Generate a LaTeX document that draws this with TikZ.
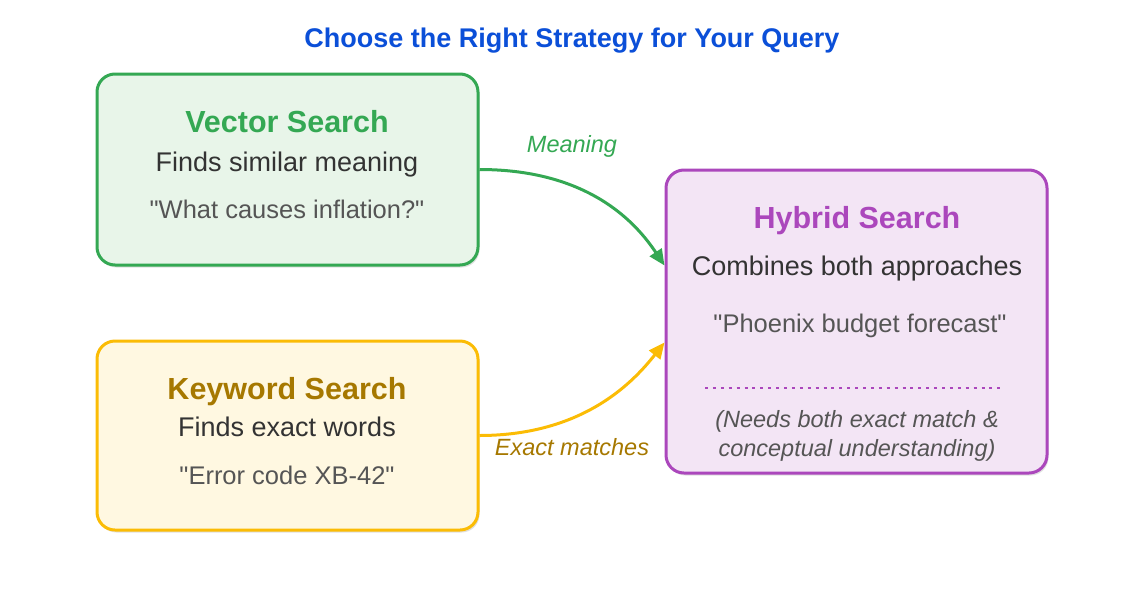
\documentclass[tikz,border=0pt]{standalone}
\usepackage{fontspec}
\setmainfont{Liberation Sans}[Ligatures=TeXOff]
\usetikzlibrary{arrows.meta,shadows}
\definecolor{vecgreen}{HTML}{34A853}
\definecolor{vecfill}{HTML}{E8F5E9}
\definecolor{kwgold}{HTML}{FBBC05}
\definecolor{kwfill}{HTML}{FFF8E1}
\definecolor{kwbrown}{HTML}{A67800}
\definecolor{hybpurple}{HTML}{AB47BC}
\definecolor{hybfill}{HTML}{F3E5F5}
\definecolor{titleblue}{HTML}{0B4FD8}
\definecolor{textdark}{HTML}{333333}
\definecolor{textgray}{HTML}{555555}
\tikzset{
  card/.style={draw, line width=3pt, rounded corners=18pt, minimum width=381pt,
    drop shadow={shadow xshift=1.5pt, shadow yshift=-2.5pt, opacity=0.12, fill=black}},
  head/.style={anchor=base, font=\fontsize{30.5}{36}\selectfont\bfseries},
  desc/.style={anchor=base, text=textdark, font=\fontsize{27}{32}\selectfont},
  sample/.style={anchor=base, text=textgray, font=\fontsize{25.5}{30}\selectfont},
  tag/.style={anchor=base, font=\fontsize{23.5}{28}\selectfont\itshape},
  flow/.style={line width=3pt, -{Triangle[length=16pt,width=14pt]}},
}
\begin{document}
\begin{tikzpicture}[x=1pt, y=-1pt]
  \useasboundingbox (0,0) rectangle (1145,600);
  % Title
  \node[anchor=base, text=titleblue, font=\fontsize{27}{32}\selectfont\bfseries] (title) at (572,47) {Choose the Right Strategy for Your Query};
  % Cards
  \node[card, vecgreen, fill=vecfill, minimum height=191pt] (vec) at (287.5,169.5) {};
  \node[card, kwgold, fill=kwfill, minimum height=189pt] (kw) at (287.5,435.5) {};
  \node[card, hybpurple, fill=hybfill, minimum height=303pt] (hyb) at (856.5,321.5) {};
  % Vector search texts
  \node[head, text=vecgreen] (vechead) at (287,132) {Vector Search};
  \node[desc] (vecdesc) at (287,171) {Finds similar meaning};
  \node[sample] (vecsample) at (287,218) {"What causes inflation?"};
  % Keyword search texts
  \node[head, text=kwbrown] (kwhead) at (287,399) {Keyword Search};
  \node[desc] (kwdesc) at (287,436) {Finds exact words};
  \node[sample] (kwsample) at (287,484) {"Error code XB-42"};
  % Hybrid search texts
  \node[head, text=hybpurple] (hybhead) at (857,228) {Hybrid Search};
  \node[desc] (hybdesc) at (857,275) {Combines both approaches};
  \node[sample] (hybsample) at (860,332) {"Phoenix budget forecast"};
  \coordinate (sepl) at (705,388);
  \coordinate (sepr) at (1005,388);
  \draw[hybpurple, line width=2.5pt, dash pattern=on 3pt off 4.9pt] (sepl) -- (sepr);
  \node[tag, text=textgray] (hybnote1) at (857,427) {(Needs both exact match \&};
  \node[tag, text=textgray] (hybnote2) at (857,456) {conceptual understanding)};
  % Connectors
  \draw[flow, vecgreen] (vec.east) .. controls +(110,0) and +(-28,-42) .. ([yshift=56pt]hyb.west);
  \draw[flow, kwgold] (kw.east) .. controls +(105,0) and +(-30,38) .. ([yshift=-21pt]hyb.west);
  \node[tag, text=vecgreen] (meaning) at (572,152) {Meaning};
  \node[tag, text=kwbrown] (exact) at (572,455) {Exact matches};
\end{tikzpicture}
\end{document}
